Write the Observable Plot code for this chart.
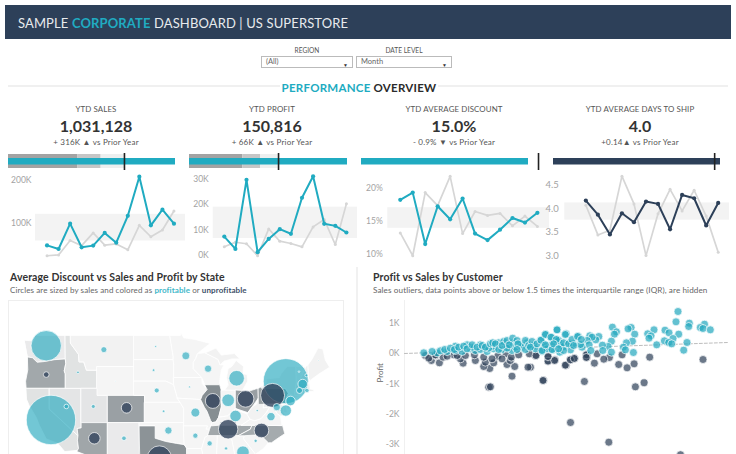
<!DOCTYPE html>
<html><head><meta charset="utf-8">
<script src="https://cdn.jsdelivr.net/npm/d3@7"></script>
<script src="https://cdn.jsdelivr.net/npm/@observablehq/plot@0.6"></script>
<style>
html,body{margin:0;padding:0;background:#fff;width:736px;height:454px;overflow:hidden}
body{font-family:Lato,sans-serif;color:#333;position:relative}
.a{position:absolute;white-space:nowrap}
.c{transform:translateX(-50%);text-align:center}
.box{position:absolute;box-sizing:border-box;border:1px solid #bbb;background:#fff;font-size:7.5px;color:#666;padding:0 4px;height:12px;line-height:10px}
.box i{position:absolute;right:4px;top:2.5px;font-style:normal;font-size:5px;color:#333}
svg{display:block}
</style></head><body>
<script>
// ---------- DATA ----------
const months = [1,2,3,4,5,6,7,8,9,10,11,12];
const salesNow = [46.5,38,98,42,46,76,53,116.5,209,94,131,98];
const salesPrev = [22,24,58,46,76,47,50,36,94,67,83,128];
const salesBand = [57,120];
const profitNow = [7.4,2.6,29.6,1.3,6.5,10.3,8.5,22.6,31,12.4,11.6,9.0];
const profitPrev = [3.4,5.2,4.6,-0.1,10.4,5.6,4.7,3.4,11.2,14.1,4.3,20.2];
const profitBand = [6.65,18.9];
const discountNow = [18.3,19.4,11.5,17.3,15.3,18.5,13.1,12.1,13.7,15.5,14.8,16.3];
const discountPrev = [13.2,9.7,19.4,17.4,21.9,13.1,16.5,15.9,16.2,14.3,15.8,14.2];
const discountBand = [13.92,17.08];
const shipNow = [4.17,3.87,3.45,3.90,3.71,4.15,4.10,3.56,4.29,4.22,3.64,4.12];
const shipPrev = [4.07,3.44,3.54,4.69,4.10,3.0,3.89,4.41,3.95,4.39,3.84,3.07];
const shipBand = [3.755,4.12];

const kpiTitles = ["YTD SALES","YTD PROFIT","YTD AVERAGE DISCOUNT","YTD AVERAGE DAYS TO SHIP"];
const kpiValues = ["1,031,128","150,816","15.0%","4.0"];
const kpiDeltas = ["+ 316K ▲ vs Prior Year","+ 66K ▲ vs Prior Year","- 0.9% ▼ vs Prior Year","+0.14▲ vs Prior Year"];
const bulletCurrent = [1031128,150816,15.0,4.0];
const bulletPrior = [716000,85000,15.9,3.86];
const bulletBands = [[429000,572000,716000],[50900,67800,85000],[],[]];

const stateNames = ["WA","OR","CA","NV","ID","MT","WY","UT","CO","AZ","NM","ND","SD","NE","KS","OK","TX","MN","IA","MO","AR","LA","WI","IL","IN","MI","OH","KY","TN","MS","AL","GA","FL","SC","NC","VA","WV","PA","NY","NJ","DE","MD","CT","RI","MA","VT","NH","ME"];
const stateDiscount = [.04,.29,.07,.06,.07,.01,.0,.06,.32,.30,.04,0,0,0,0,0,.37,0,0,0,0,0,0,.39,0,.01,.325,0,.29,0,0,0,.29,0,.28,0,.01,.33,.02,.02,.01,.02,.01,.02,.02,0,.02,.01];
const stateRings = [
[[[-124.7,48.4],[-123,48.3],[-122.8,49],[-117,49],[-117,46],[-119,45.9],[-121,45.65],[-122.3,45.55],[-123.2,46.15],[-124.1,46.25]]],
[[[-124.1,46.25],[-123.2,46.15],[-122.3,45.55],[-121,45.65],[-119,45.9],[-117,46],[-116.9,45.4],[-117.2,44.4],[-117,44],[-117,42],[-124.4,42],[-124.5,43],[-124.1,44.5]]],
[[[-124.4,42],[-120,42],[-120,39],[-114.6,35],[-114.7,34.3],[-114.5,33],[-114.7,32.7],[-117.1,32.5],[-118.4,33.8],[-120.6,34.5],[-121.9,36.6],[-122.5,37.8],[-123.8,39.5],[-124.3,40.4]]],
[[[-120,42],[-114,42],[-114,36.2],[-114.7,36.1],[-114.6,35],[-120,39]]],
[[[-117,49],[-116,49],[-116,48],[-114.5,46.6],[-114.4,45.6],[-113.5,45.6],[-113,44.5],[-111,44.5],[-111,42],[-117,42],[-117,44],[-117.2,44.4],[-116.9,45.4],[-117,46]]],
[[[-116,49],[-104,49],[-104,45],[-111,45],[-111,44.5],[-113,44.5],[-113.5,45.6],[-114.4,45.6],[-114.5,46.6],[-116,48]]],
[[[-111,45],[-104,45],[-104,41],[-111,41]]],
[[[-114,42],[-111,42],[-111,41],[-109,41],[-109,37],[-114,37]]],
[[[-109,41],[-102,41],[-102,37],[-109,37]]],
[[[-114.7,36.1],[-114,36.2],[-114,37],[-109,37],[-109,31.3],[-111,31.3],[-114.8,32.5],[-114.7,32.7],[-114.5,33],[-114.7,34.3],[-114.6,35]]],
[[[-109,37],[-103,37],[-103,32],[-106.6,32],[-106.5,31.8],[-108.2,31.8],[-108.2,31.3],[-109,31.3]]],
[[[-104,49],[-97.2,49],[-96.6,46.3],[-96.6,45.9],[-104,45.9]]],
[[[-104,45.9],[-96.6,45.9],[-96.5,45.3],[-96.5,43.5],[-96.5,42.5],[-98,43],[-104,43]]],
[[[-104,43],[-98,43],[-96.5,42.5],[-95.8,40.6],[-95.3,40],[-102,40],[-102,41],[-104,41]]],
[[[-102,40],[-95.3,40],[-94.6,39.1],[-94.6,37],[-102,37]]],
[[[-103,37],[-94.6,37],[-94.5,33.6],[-96,33.8],[-98,34.1],[-100,34.6],[-100,36.5],[-103,36.5]]],
[[[-103,36.5],[-100,36.5],[-100,34.6],[-98,34.1],[-96,33.8],[-94.5,33.6],[-94,33],[-94,31.5],[-93.6,31],[-93.8,29.7],[-95,29],[-97.2,27.7],[-97.2,25.9],[-99.2,26.4],[-100.6,29],[-101.5,29.8],[-103,29],[-104.5,29.7],[-106.5,31.8],[-106.6,32],[-103,32]]],
[[[-97.2,49],[-95.2,49],[-95.2,49.4],[-94.6,48.7],[-92.5,48.5],[-89.6,48],[-92,46.7],[-92.3,46.1],[-92.8,45.5],[-92.8,44.7],[-91.2,43.5],[-96.5,43.5],[-96.5,45.3],[-96.6,45.9],[-96.6,46.3]]],
[[[-96.5,43.5],[-91.2,43.5],[-91.1,42.7],[-90.2,41.8],[-91.1,41],[-91.4,40.4],[-95.8,40.6],[-96.5,42.5]]],
[[[-95.8,40.6],[-91.4,40.4],[-90.7,39.3],[-90.2,38.7],[-89.5,37.3],[-89.2,37],[-89.5,36.5],[-89.7,36],[-90.4,36],[-90.1,36.5],[-94.6,36.5],[-94.6,39.1],[-95.3,40]]],
[[[-94.6,36.5],[-90.1,36.5],[-90.4,36],[-89.7,36],[-90.1,35],[-90.6,34.7],[-91.2,33],[-94,33],[-94.5,33.6]]],
[[[-94,33],[-91.2,33],[-91,32],[-91.6,31],[-89.7,31],[-89.4,30.2],[-89.4,29.2],[-91,29.2],[-93.8,29.7],[-93.6,31],[-94,31.5]]],
[[[-92.3,46.1],[-92,46.7],[-90.5,46.8],[-88.1,45.9],[-87.7,45.2],[-87,45.2],[-87.5,44.5],[-87.8,43],[-87.8,42.5],[-90.6,42.5],[-91.2,43.5],[-92.8,44.7],[-92.8,45.5]]],
[[[-90.6,42.5],[-87.8,42.5],[-87.5,41.7],[-87.5,39.3],[-88,37.8],[-88.5,37.1],[-89.2,37],[-89.5,37.3],[-90.2,38.7],[-90.7,39.3],[-91.4,40.4],[-91.1,41],[-90.2,41.8]]],
[[[-87.5,41.7],[-86.8,41.76],[-84.8,41.76],[-84.8,39.1],[-85.5,38.6],[-86.3,38],[-88,37.8],[-87.5,39.3]]],
[[[-86.8,41.76],[-83.5,41.7],[-83.1,42.2],[-82.5,43],[-82.6,43.9],[-83.4,44],[-83.3,45],[-84.7,45.8],[-85.5,45],[-86.2,44.7],[-86.5,43.5],[-86.2,42.5]],[[-90.5,46.8],[-88.5,47.4],[-87.5,46.5],[-85,46.7],[-84,46],[-85.5,46],[-87,45.7],[-87.7,45.2],[-88.1,45.9]]],
[[[-84.8,41.76],[-83.5,41.7],[-82.7,41.5],[-81,41.9],[-80.5,42],[-80.5,40.6],[-81.7,39.3],[-82.5,38.5],[-84.8,39.1]]],
[[[-89.5,36.5],[-89.2,37],[-88.5,37.1],[-88,37.8],[-86.3,38],[-85.5,38.6],[-84.8,39.1],[-83.7,38.6],[-82.6,38.3],[-82,37.5],[-83.7,36.6],[-88,36.6]]],
[[[-90.1,35],[-89.7,36],[-89.5,36.5],[-88,36.6],[-83.7,36.6],[-81.7,36.6],[-82,36],[-84.3,35]]],
[[[-91.2,33],[-90.6,34.7],[-90.1,35],[-88.2,35],[-88.4,31],[-88.4,30.3],[-89.4,30.2],[-89.7,31],[-91.6,31],[-91,32]]],
[[[-88.2,35],[-85.6,35],[-85,32.3],[-85,31],[-87.6,31],[-87.5,30.3],[-88.4,30.3],[-88.4,31]]],
[[[-85.6,35],[-83.1,35],[-83.3,34.6],[-81,32.1],[-81.4,30.7],[-82,30.4],[-84.9,30.7],[-85,31],[-85,32.3]]],
[[[-87.6,31],[-85,31],[-84.9,30.7],[-82,30.4],[-81.4,30.7],[-80,26.8],[-80.4,25.2],[-81.8,26],[-82.8,28],[-83.8,30],[-85.3,29.7],[-87.5,30.3]]],
[[[-83.3,34.6],[-83.1,35],[-81,35.1],[-79.7,34.8],[-78.6,33.9],[-79.5,33],[-81,32.1]]],
[[[-84.3,35],[-82,36],[-81.7,36.6],[-75.9,36.55],[-75.5,35.3],[-76.8,34.6],[-78,33.9],[-78.6,33.9],[-79.7,34.8],[-81,35.1],[-83.1,35]]],
[[[-83.7,36.6],[-82,37.5],[-81.2,37.3],[-80,37.6],[-79,38.5],[-78.3,39.4],[-77.5,39.2],[-77,38.4],[-76.3,37.9],[-76,36.55],[-81.7,36.6]]],
[[[-82.6,38.3],[-81.7,39.3],[-80.9,39.7],[-80.5,40.6],[-80.5,39.7],[-79.5,39.7],[-79.5,39.2],[-78.3,39.4],[-79,38.5],[-80,37.6],[-81.2,37.3],[-82,37.5]]],
[[[-80.5,42],[-79.8,42.25],[-79.8,42],[-75.4,42],[-74.8,41.3],[-75.2,40.6],[-75.4,39.8],[-80.5,39.7],[-80.5,40.6]]],
[[[-79.8,42.25],[-79,42.7],[-79,43.3],[-76.5,43.5],[-76.2,44],[-75,45],[-73.4,45],[-73.3,42.8],[-73.5,42],[-73.6,41],[-72,41],[-74,40.6],[-74,41],[-74.8,41.3],[-75.4,42],[-79.8,42]]],
[[[-75.4,39.8],[-75.2,40.6],[-74.8,41.3],[-74,41],[-74,40.4],[-74,39.7],[-74.9,38.9]]],
[[[-75.8,39.7],[-75.4,39.8],[-75,38.5],[-75.7,38.5]]],
[[[-79.5,39.7],[-75.8,39.7],[-75.7,38.5],[-75.2,38],[-76.3,38],[-77,38.4],[-77.5,39.2],[-78.3,39.4],[-79.5,39.2]]],
[[[-73.6,41],[-73.5,42],[-71.8,42],[-71.8,41.3]]],
[[[-71.8,42],[-71.3,42],[-71.2,41.5],[-71.8,41.3]]],
[[[-73.5,42],[-73.3,42.75],[-71.3,42.7],[-70.8,42.7],[-70.7,41.9],[-70,41.8],[-70,41.6],[-71.2,41.5],[-71.3,42],[-71.8,42]]],
[[[-73.3,42.75],[-73.4,45],[-71.5,45],[-72.4,43.5],[-72.5,42.75]]],
[[[-72.5,42.75],[-72.4,43.5],[-71.5,45],[-71.1,45.2],[-71,43.5],[-70.8,42.9],[-71.3,42.7]]],
[[[-71,43.5],[-71.1,45.2],[-70.3,46],[-69.2,47.4],[-68.3,47.3],[-67.8,45.8],[-67,44.9],[-69,44],[-70.7,43.1]]]
];

const bubbleState = ["CA","NY","WA","PA","TX","TN","OH","MI","IL","NC","IN","AZ","KY","GA","CO","DE","NJ","MA","MO","VA","MD","MN","OK","WI","CT","MT","OR","NE","AR","MS","NV","NM","RI","UT","AL","SC","NH","ID","SD","KS","WV","ND","IA","VT","ME","WY"];
const bubbleLon = [-119.7,-75.3,-120.6,-77.8,-99.2,-86.2,-82.9,-84.6,-89.1,-79.9,-86.2,-111.5,-84.8,-83.4,-105.4,-75.3,-74.4,-72.1,-92.4,-78.1,-77,-94.2,-97.5,-90,-72.7,-109.7,-120.6,-99.7,-92.4,-89.7,-116.8,-105.9,-71.3,-111.7,-86.6,-81,-71.4,-114.6,-100.3,-98.4,-80.7,-99.9,-93.5,-72.8,-69.1,-107.5];
const bubbleLat = [37.4,43,47.7,41,31.5,36,40.5,43.4,40.2,35.8,40.3,34.6,38,32.4,39.2,38.8,40.2,42.6,38.5,37.9,39.3,46.4,35.8,44.7,41.7,47.2,43.9,41.7,35,33.8,39.4,34.6,41.7,39.4,33,34.2,43.8,44.2,44.5,38.7,38.8,47.6,42.2,44.3,45.8,43];
const bubbleSales = [460,382,174,108,108,71,52,46,42,40,30,25,25,30,21,24,17,17,15,13,10,12,10,10,7,6.8,6,4.7,5,5,4,4,3.6,3,2,2,1.7,1.3,1.3,1.3,1,.75,.75,.5,.2,.12];
const bubbleProfitable = [1,1,1,0,0,0,0,1,0,0,1,0,1,1,0,1,1,1,1,1,1,1,1,1,1,1,0,1,1,1,1,1,1,1,1,1,1,1,1,1,1,1,1,1,1,1];

const lossSales = [2985,2452,2296,2226,2142,2176,2049,1993,1899,1926,1823,1826,1700,1660,1616,1503,1436,1436,1310,1260,1390,1799,2309,2396,1660,2043,2760,842,859,1075,1385,852,792,892,1025,1102,1235,1435,1501,1608,1658,1698,349,586,269,209,309,386,493,559,709,699,809,792,932,1058,1015,1068,1142,1248,1315,1435,1818,1818,243,426,609,526,875,975,309];
const lossProfit = [-198,-121,-341,-473,-363,-44,-132,-187,-319,-11,-121,-33,-154,-209,-385,-209,-242,-121,-77,-451,-880,-924,-1100,-968,-2277,-2927,-3340,-1111,-1100,-748,-891,-495,-429,-308,-363,-429,-451,-253,-231,-385,-209,-165,-308,-319,-231,-66,-66,-121,-44,-176,-231,-44,-286,-121,-88,-231,-11,-121,-44,-11,-66,-99,-44,-132,-154,-88,-66,-66,-176,-176,-44];
const gainSales = [2735,2715,2848,2842,3000,2958,2985,3058,2495,2432,2465,2445,2605,2645,2742,2685,2599,2642,2672,2522,2825,2792,2266,2236,2302,2279,2219,2189,2209,2289,2079,2119,2099,2069,2036,1979,1983,2069,1943,1913,1853,1876,1826,1846,1863,1776,1736,1760,1686,1643,1616,1526,1410,1466,1520,1576,1360,1287,1400,1483,1377,1553,1660,1593,326,426,509,576,659,709,759,826,892,976,1042,1075,1175,1225,1292,1192,876,676,626,509,759,842,942,992,1075,1109,1025,1159,1209,1309,1425,1558,1591,1475,1541,193,276,359,402,459,499,542,592,626,676,726,776,809,859,882,909,942,976,1025,1048,1082,1125,1135,1125,1209,1242,1275,1259,1325,1365,1409,1465,1375,1409,1475,1525,1518,1491,1541,1608,1591,1641,1675,1731,1691,1768];
const gainProfit = [1386,1045,1001,891,968,858,825,781,781,649,583,506,770,682,638,495,418,363,319,286,363,110,858,814,638,407,352,209,121,33,869,715,638,407,231,275,99,44,561,451,583,539,429,286,99,209,572,297,319,341,649,781,638,539,451,297,429,242,264,121,77,44,121,220,22,66,99,66,154,99,132,66,154,132,176,99,209,352,264,264,231,209,286,242,286,176,352,396,352,209,176,264,132,154,154,264,99,286,429,22,66,88,132,176,132,209,242,154,286,209,264,209,319,352,319,132,264,429,286,506,429,319,132,429,264,396,209,319,440,627,539,99,286,132,781,462,319,154,627,352,319,462,561,264,462];
const trendSales = [0,3233];
const trendProfit = [0,363];
const profitTicks = [1000,0,-1000,-2000,-3000];

// ---------- STYLE ----------
const FONT = 'Lato,sans-serif';
const TEAL = "#20abc1", NAVY = "#2d4059";
const sparkLayout = [
 {now:salesNow,prev:salesPrev,band:salesBand,ticks:[100,200],fmt:d=>d+"K",left:0,width:185,ml:35,pad:4,xd:[0,13],yd:[-1,223.6],c:TEAL,fs:8.5},
 {now:profitNow,prev:profitPrev,band:profitBand,ticks:[0,10,20,30],fmt:d=>d+"K",left:186,width:171,ml:26.7,pad:4.5,xd:[0,13],yd:[-3.9,33.25],c:TEAL,fs:8.5},
 {now:discountNow,prev:discountPrev,band:discountBand,ticks:[10,15,20],fmt:d=>d+"%",left:357,width:192,ml:30.3,pad:5,xd:[0,12.97],yd:[8.2,22.8],c:TEAL,fs:8.5},
 {now:shipNow,prev:shipPrev,band:shipBand,ticks:[3,3.5,4,4.5],fmt:d=>d.toFixed(1),left:539,width:190,ml:25.3,pad:6,xd:[-0.75,12.94],yd:[2.79,4.81],c:NAVY,fs:9.5}
];
const kpiCenters = [96,272,454,640];
const bulletLayout = [{left:8,w:168,c:TEAL},{left:189,w:159,c:TEAL},{left:361,w:180,c:TEAL},{left:553,w:170,c:NAVY}];
const bulletScale = [168/167,159/158,180/167,170/167];
const bandColors = ["#a3a3a3","#c6c6c6","#edefef"];

function text(s,left,top,css,cls=""){
  const d=document.createElement("div");d.className="a "+cls;d.style.cssText=`left:${left}px;top:${top}px;${css}`;d.innerHTML=s;document.body.append(d);return d;
}
function block(left,top,w,h,bg){ text("",left,top,`width:${w}px;height:${h}px;background:${bg}`); }
function place(plot,left,top){ plot.style.position="absolute";plot.style.left=left+"px";plot.style.top=top+"px";document.body.append(plot); }
const transparent={background:"transparent",fontFamily:FONT,overflow:"hidden"};

// Header
block(5,5,726,34,NAVY);
text(`SAMPLE <span style="color:#20abc1;font-weight:700">CORPORATE</span> DASHBOARD | US SUPERSTORE`,18,12,"font-size:13px;line-height:22px;color:#e8ebee;letter-spacing:.12px");
// Filters
text("REGION",307,46,"font-size:6.6px;line-height:9px;color:#555","c");
text("DATE LEVEL",404,46,"font-size:6.6px;line-height:9px;color:#555","c");
const b1=document.createElement("div");b1.className="box";b1.style.cssText="left:261px;top:56px;width:92px";b1.innerHTML="(All)<i>▼</i>";document.body.append(b1);
const b2=document.createElement("div");b2.className="box";b2.style.cssText="left:356px;top:56px;width:96px";b2.innerHTML="Month<i>▼</i>";document.body.append(b2);
// Section heading
block(8,85,272,1.5,"#f0f0f0"); block(438,85,290,1.5,"#f0f0f0");
text(`<span style="color:#20abc1">PERFORMANCE</span> OVERVIEW`,359,79,"font-size:11.5px;line-height:17px;font-weight:700;color:#2b2b2b;letter-spacing:.25px","c");
// KPIs
kpiTitles.forEach((t,i)=>{
  text(t,kpiCenters[i],103.5,"font-size:7.9px;line-height:11px;color:#555;letter-spacing:.1px","c");
  text(kpiValues[i],kpiCenters[i],116,"font-size:16px;line-height:20px;font-weight:700;color:#333","c");
  text(kpiDeltas[i],kpiCenters[i],137,"font-size:8px;line-height:11px;color:#555;letter-spacing:.2px","c");
});
// Bullets
bulletCurrent.forEach((cur,i)=>{
  const L=bulletLayout[i], dom=cur*bulletScale[i], edges=[0,...bulletBands[i]];
  const bands=bulletBands[i].map((b,j)=>({x1:edges[j],x2:b,c:bandColors[j]}));
  place(Plot.plot({width:L.w,height:18,margin:0,x:{domain:[0,dom],axis:null},style:transparent,marks:[
    Plot.rectX(bands,{x1:"x1",x2:"x2",fill:"c",insetTop:2,insetBottom:2}),
    Plot.rectX([cur],{x1:()=>0,x2:d=>d,fill:L.c,insetTop:6,insetBottom:5.5}),
    Plot.ruleX([bulletPrior[i]],{stroke:"#222",strokeWidth:1.6,insetTop:1})
  ]}),L.left,152);
});
// Sparklines
sparkLayout.forEach(s=>{
  place(Plot.plot({width:s.width,height:95,marginLeft:s.ml,marginRight:0,marginTop:0,marginBottom:0,
    x:{domain:s.xd,axis:null},y:{domain:s.yd},style:transparent,marks:[
    Plot.rect([0],{x1:()=>s.xd[0],x2:()=>s.xd[1],y1:()=>s.band[0],y2:()=>s.band[1],fill:"#f3f3f3"}),
    Plot.axisY(s.ticks,{anchor:"left",tickSize:0,tickPadding:s.pad,tickFormat:s.fmt,label:null,fontSize:s.fs,color:"#a3a3a3",fill:"#a3a3a3"}),
    Plot.line(months,{x:d=>d,y:d=>s.prev[d-1],stroke:"#d6d6d6",strokeWidth:1.7}),
    Plot.dot(months,{x:d=>d,y:d=>s.prev[d-1],r:1.5,fill:"#d6d6d6"}),
    Plot.line(months,{x:d=>d,y:d=>s.now[d-1],stroke:s.c,strokeWidth:2}),
    Plot.dot(months,{x:d=>d,y:d=>s.now[d-1],r:2.1,fill:s.c})
  ]}),s.left,170);
});
// Dividers & titles
block(356,267,2,187,"#f1f1f1");
text("Average Discount vs Sales and Profit by State",10,270,"font-size:10.5px;line-height:15px;font-weight:700;color:#333;letter-spacing:.1px");
text(`Circles are sized by sales and colored as <span style="color:#3fb7c9;font-weight:700">profitable</span> or <span style="color:#3d4f68;font-weight:700">unprofitable</span>`,10,285,"font-size:8px;line-height:11px;color:#666;letter-spacing:.1px");
text("Profit vs Sales by Customer",373,270,"font-size:10.5px;line-height:15px;font-weight:700;color:#333;letter-spacing:.1px");
text("Sales outliers, data points above or below 1.5 times the interquartile range (IQR), are hidden",373,285,"font-size:8.15px;line-height:11px;color:#666;letter-spacing:.1px");
// Map
const k=303, merc=d3.geoTransform({point(lon,lat){
  this.stream.point(674.5+k*lon*Math.PI/180, 332-k*Math.log(Math.tan(Math.PI/4+lat*Math.PI/360)));
}});
const features=stateNames.map((n,i)=>({type:"Feature",properties:{name:n,d:stateDiscount[i]},geometry:{type:"MultiPolygon",coordinates:stateRings[i].map(r=>[[...r,r[0]]])}}));
const bubbles=bubbleState.map((n,i)=>({n,lon:bubbleLon[i],lat:bubbleLat[i],s:bubbleSales[i],p:bubbleProfitable[i]}));
text("",8,300,"width:336px;height:170px;box-sizing:border-box;border:1px solid #eee");
place(Plot.plot({width:334,height:153,margin:0,projection:merc,
  color:{type:"linear",domain:[0,.39],range:["#f5f5f5","#868e92"]},
  r:{type:"sqrt",domain:[0,460],range:[0,24.7]},style:transparent,marks:[
  Plot.geo(features,{fill:d=>d.properties.d,stroke:"#fff",strokeWidth:.8}),
  Plot.dot(bubbles,{x:"lon",y:"lat",r:"s",fill:d=>d.p?"#27a9bf":"#32445c",fillOpacity:d=>d.p?.65:.8,stroke:"#fff",strokeWidth:.7})
]}),9,301);
// Scatter
const lossPts=lossSales.map((s,i)=>({s,p:lossProfit[i]}));
const gainPts=gainSales.map((s,i)=>({s,p:gainProfit[i]}));
place(Plot.plot({width:381,height:154,marginLeft:49,marginRight:0,marginTop:0,marginBottom:0,
  x:{domain:[0,3320],axis:null},y:{domain:[-3333,1749]},style:transparent,marks:[
  Plot.ruleX([0],{stroke:"#f0f0f0"}),
  Plot.axisY(profitTicks,{anchor:"left",tickSize:0,tickPadding:5,tickFormat:d=>d===0?"0K":(d/1000)+"K",label:null,fontSize:8.5,fill:"#a3a3a3",color:"#a3a3a3"}),
  Plot.text(["Profit"],{frameAnchor:"left",dx:-24,dy:5,rotate:-90,fontSize:8,fill:"#666"}),
  Plot.line(trendSales.map((s,i)=>({s,p:trendProfit[i]})),{x:"s",y:"p",stroke:"#bdbdbd",strokeWidth:1,strokeDasharray:"3,2"}),
  Plot.dot(lossPts,{x:"s",y:"p",r:4,fill:"#32445c",fillOpacity:.72,stroke:"#fff",strokeWidth:.7}),
  Plot.dot(gainPts,{x:"s",y:"p",r:4,fill:"#27a9bf",fillOpacity:.72,stroke:"#fff",strokeWidth:.7})
]}),355,300);
</script>
</body></html>
